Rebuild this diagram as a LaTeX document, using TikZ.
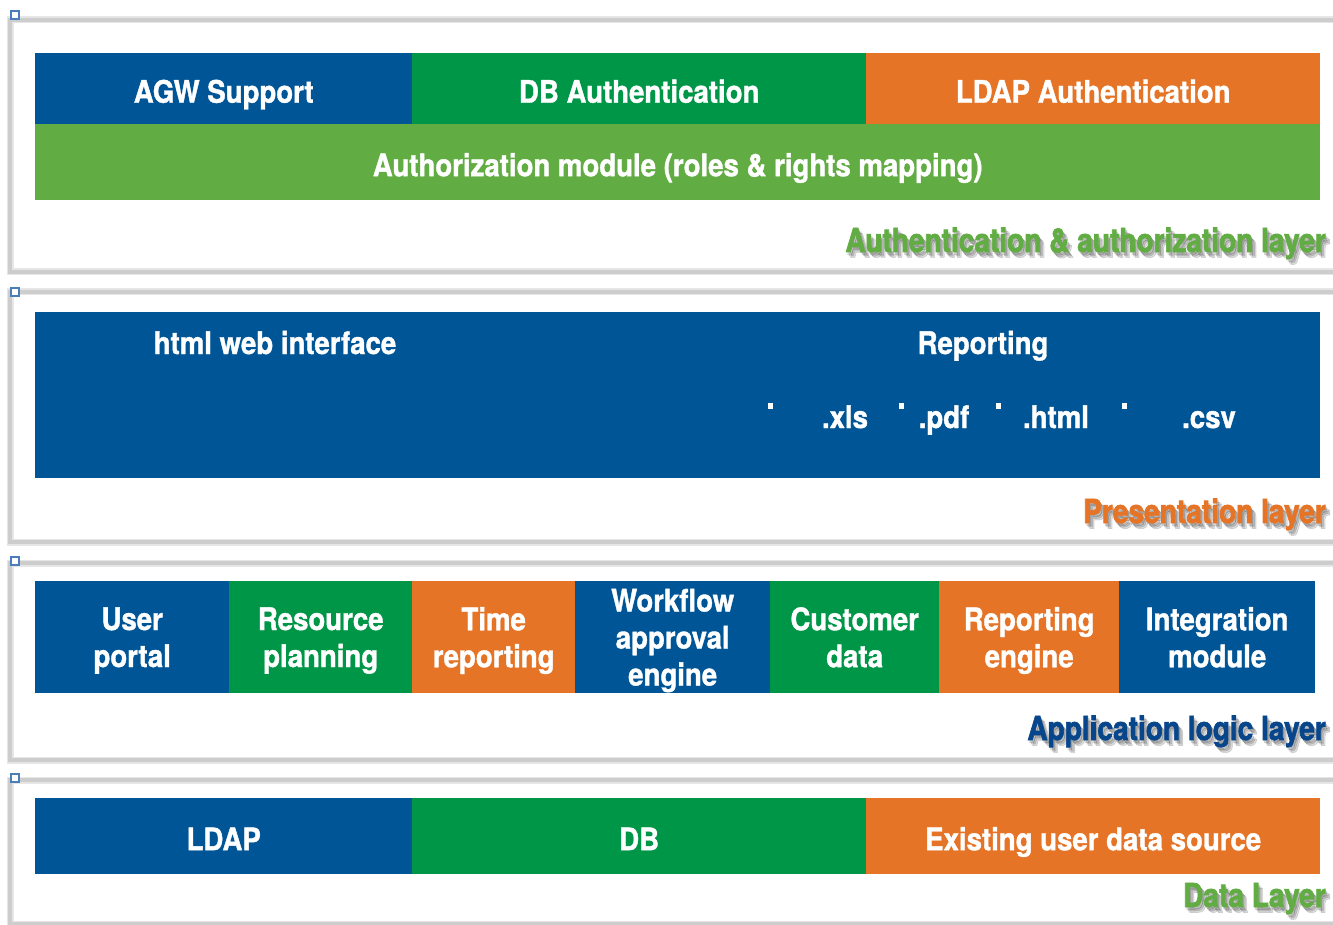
\documentclass[tikz,border=0pt]{standalone}
\usepackage{fontspec}
\newfontfamily\blockfont{TeX Gyre Heros}[FakeStretch=0.89,FakeBold=1.2]
\newfontfamily\layerfont{TeX Gyre Heros}[FakeStretch=0.85,FakeBold=2]
\definecolor{cblue}{RGB}{0,85,150}
\definecolor{cgreen}{RGB}{0,150,72}
\definecolor{corange}{RGB}{229,116,38}
\definecolor{clight}{RGB}{98,172,68}
\definecolor{cdark}{RGB}{8,70,140}
\definecolor{cframe}{RGB}{205,205,205}
\definecolor{chandle}{RGB}{74,126,187}
\begin{document}
\begin{tikzpicture}[x=1pt,y=1pt,yscale=-1,xscale=1,
	blk/.style={rectangle,inner sep=0pt,anchor=north west,text=white,align=center,text depth=0pt,
		font=\blockfont\bfseries\fontsize{31}{37}\selectfont},
	one/.style={blk,text height=28pt},
	txt/.style={inner sep=0pt,anchor=base,text=white,
		font=\blockfont\bfseries\fontsize{31}{37}\selectfont},
	layer/.style={inner sep=0pt,anchor=base east,font=\layerfont\bfseries\fontsize{33}{37}\selectfont},
	handle/.style={draw=chandle,fill=white,line width=1.5pt,minimum size=8pt,inner sep=0pt}]
	\useasboundingbox (0,0) rectangle (1333,925);
	\clip (0,0) rectangle (1333,925);
	
	%Frames
	\foreach \ft/\fb in {20/272,292/542,563/760,780/924}{
		\draw [cframe!50,line width=7pt] (10,\ft) rectangle (1350,\fb) ;
		\draw [cframe,line width=3.5pt] (10,\ft) rectangle (1350,\fb) ;
	}
	\foreach \hy/\hn in {15/ha,292/hb,561/hc,778/hd}
		\node [handle] (\hn) at (15,\hy) {};
	
	%Authentication & authorization layer
	\node [one,fill=cblue,minimum width=377,minimum height=71] (agw) at (35,53) {AGW Support};
	\node [one,fill=cgreen,minimum width=454,minimum height=71] (dbauth) at (412,53) {DB Authentication};
	\node [one,fill=corange,minimum width=454,minimum height=71] (ldapauth) at (866,53) {LDAP Authentication};
	\node [one,fill=clight,minimum width=1285,minimum height=76] (authz) at (35,124) {Authorization module (roles \& rights mapping)};
	
	%Presentation layer
	\node [blk,fill=cblue,minimum width=1285,minimum height=166] (pres) at (35,312) {};
	\node [txt] (web) at (275,354) {html web interface};
	\node [txt] (rep) at (983,354) {Reporting};
	\foreach \bx/\bn in {770/ba,901/bb,998/bc,1124/bd}
		\fill [white] (\bx-2.5,403) rectangle (\bx+2.5,409) coordinate (\bn) ;
	\node [txt] (xls) at (845,428) {.xls};
	\node [txt] (pdf) at (944,428) {.pdf};
	\node [txt] (html) at (1056,428) {.html};
	\node [txt] (csv) at (1209,428) {.csv};
	
	%Application logic layer
	\node [blk,fill=cblue,minimum width=194,minimum height=112] (portal) at (35,581) {User\\portal};
	\node [blk,fill=cgreen,minimum width=183,minimum height=112] (resource) at (229,581) {Resource\\planning};
	\node [blk,fill=corange,minimum width=163,minimum height=112] (time) at (412,581) {Time\\reporting};
	\node [blk,fill=cblue,minimum width=195,minimum height=112] (workflow) at (575,581) {Workflow\\approval\\engine};
	\node [blk,fill=cgreen,minimum width=169,minimum height=112] (customer) at (770,581) {Customer\\data};
	\node [blk,fill=corange,minimum width=180,minimum height=112] (engine) at (939,581) {Reporting\\engine};
	\node [blk,fill=cblue,minimum width=196,minimum height=112] (integration) at (1119,581) {Integration\\module};
	
	%Data layer
	\node [one,fill=cblue,minimum width=377,minimum height=76] (ldap) at (35,798) {LDAP};
	\node [one,fill=cgreen,minimum width=454,minimum height=76] (db) at (412,798) {DB};
	\node [one,fill=corange,minimum width=454,minimum height=76] (source) at (866,798) {Existing user data source};
	
	%Layer titles with shadow
	\foreach \ly/\lc/\lt in {252/clight/Authentication \& authorization layer,
		523/corange/Presentation layer,
		740/cdark/Application logic layer,
		907/clight/Data Layer}{
		\foreach \d in {1.5,3,4.5}
			\node [layer,text=black,opacity=0.13] at (1326+\d,\ly+\d+1) {\lt};
		\node [layer,text=\lc] at (1326,\ly) {\lt};
	}
	
\end{tikzpicture}
\end{document}
